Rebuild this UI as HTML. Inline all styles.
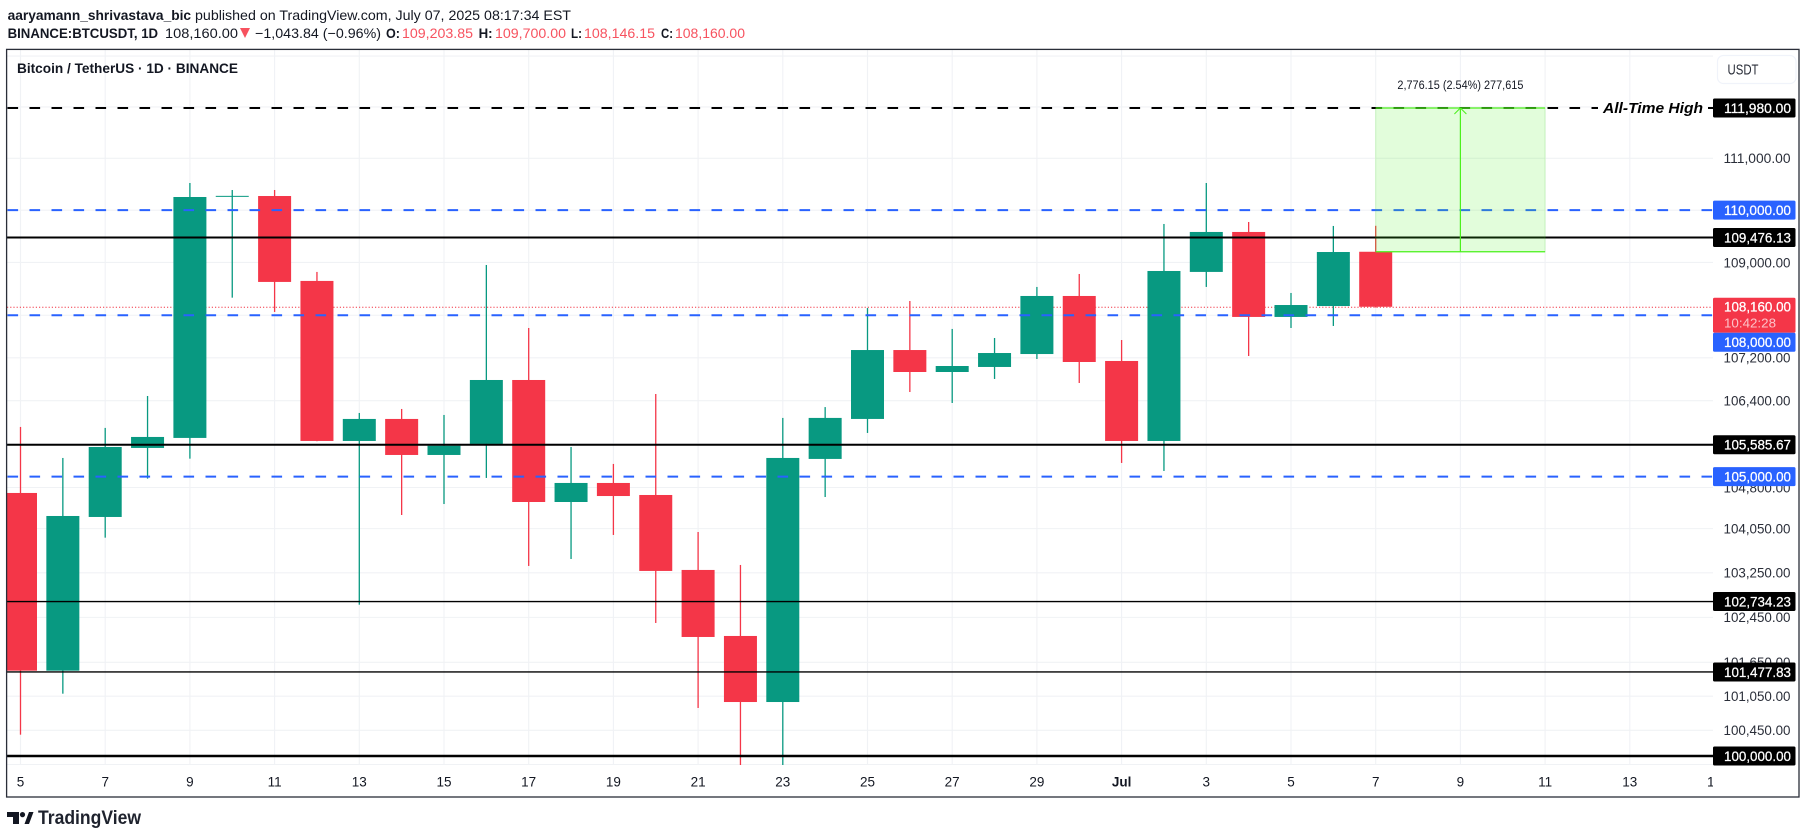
<!DOCTYPE html>
<html lang="en">
<head>
<meta charset="utf-8">
<title>Bitcoin / TetherUS 1D chart</title>
<style>
html,body{margin:0;padding:0;background:#fff;width:1807px;height:839px;overflow:hidden}
svg{display:block}
text{font-family:"Liberation Sans",Arial,sans-serif}
</style>
</head>
<body>
<svg id="chart" xmlns="http://www.w3.org/2000/svg" width="1807" height="839" viewBox="0 0 1807 839">
  <defs>
    <clipPath id="plot-clip"><rect x="7" y="50" width="1706" height="715"/></clipPath>
    <clipPath id="time-clip"><rect x="7" y="766" width="1706" height="30"/></clipPath>
  </defs>
  <rect x="0" y="0" width="1807" height="839" fill="#ffffff"/>

  <g font-size="14" fill="#131722">
    <text x="7.6" y="20" font-weight="700" textLength="183.5" lengthAdjust="spacingAndGlyphs">aaryamann_shrivastava_bic</text>
    <text x="195" y="20" textLength="376" lengthAdjust="spacingAndGlyphs">published on TradingView.com, July 07, 2025 08:17:34 EST</text>
  </g>
  <g font-size="14" fill="#131722">
    <text x="7.6" y="38" font-weight="700" textLength="150.5" lengthAdjust="spacingAndGlyphs">BINANCE:BTCUSDT, 1D</text>
    <text x="165" y="38" textLength="73" lengthAdjust="spacingAndGlyphs">108,160.00</text>
    <polygon points="240,28 250,28 245,38" fill="#f7525f"/>
    <text x="255" y="38" textLength="126" lengthAdjust="spacingAndGlyphs">−1,043.84 (−0.96%)</text>
    <text x="386" y="38" font-weight="700" textLength="14" lengthAdjust="spacingAndGlyphs">O:</text>
    <text x="402" y="38" fill="#f7525f" textLength="71" lengthAdjust="spacingAndGlyphs">109,203.85</text>
    <text x="478.6" y="38" font-weight="700" textLength="14" lengthAdjust="spacingAndGlyphs">H:</text>
    <text x="495" y="38" fill="#f7525f" textLength="71" lengthAdjust="spacingAndGlyphs">109,700.00</text>
    <text x="571" y="38" font-weight="700" textLength="11" lengthAdjust="spacingAndGlyphs">L:</text>
    <text x="584" y="38" fill="#f7525f" textLength="71" lengthAdjust="spacingAndGlyphs">108,146.15</text>
    <text x="661" y="38" font-weight="700" textLength="12" lengthAdjust="spacingAndGlyphs">C:</text>
    <text x="675" y="38" fill="#f7525f" textLength="70" lengthAdjust="spacingAndGlyphs">108,160.00</text>
  </g>

  <g id="grid" clip-path="url(#plot-clip)"></g>
  <g id="last-line" clip-path="url(#plot-clip)"></g>
  <g id="candles" clip-path="url(#plot-clip)"></g>
  <g id="levels" clip-path="url(#plot-clip)"></g>
  <g id="measure" clip-path="url(#plot-clip)"></g>
  <g id="ath-label"></g>
  <g id="price-axis"></g>
  <g id="time-axis" clip-path="url(#time-clip)"></g>

  <text x="17" y="73" font-size="13.5" font-weight="700" fill="#131722" textLength="221" lengthAdjust="spacingAndGlyphs">Bitcoin / TetherUS · 1D · BINANCE</text>

  <rect x="1717.5" y="55.5" width="78.5" height="28" rx="6" fill="#ffffff" stroke="#f0f3fa" stroke-width="1.2"/>
  <text x="1727.5" y="74.5" font-size="14.5" fill="#2a2e39" textLength="31" lengthAdjust="spacingAndGlyphs">USDT</text>

  <rect x="6.6" y="49.4" width="1792.4" height="747.6" fill="none" stroke="#2a2e39" stroke-width="1.3"/>

  <g>
    <path d="M7 812H19V824H13V817H7Z M24.5 824L29 812H33.5L29 824Z" fill="#131722"/>
    <circle cx="22.5" cy="814.6" r="2.6" fill="#131722"/>
    <text x="38" y="824" font-size="19" font-weight="700" fill="#1e222d" textLength="103" lengthAdjust="spacingAndGlyphs">TradingView</text>
  </g>

<script>
// ---- chart data ----
const dayLabels = ["5","6","7","8","9","10","11","12","13","14","15","16","17","18","19","20","21","22","23","24","25","26","27","28","29","30","Jul","2","3","4","5","6","7"];
const opens  = [104700,101501,104262,105526,105711,110260,110272,108649,105655,106062,105397,105600,106786,104535,104883,104663,103302,102118,100947,105324,106062,107346,106935,107029,107271,108364,107141,105655,108820,109582,107968,108174,109203.85];
const highs  = [105914,105342,105896,106488,110523,110388,110388,108820,106173,106247,106136,108952,107760,105544,105232,106525,103989,103392,106081,106282,108136,108269,107742,107572,108535,108781,107534,109735,110523,109773,108421,109697,109700];
const lows   = [100373,101094,103886,104962,105329,108332,108062,105650,102677,104298,104498,104975,103374,103500,103935,102350,100842,99826,99826,104626,105803,106562,106358,106805,107178,106730,105250,105103,108535,107234,107760,107798,108146.15];
const closes = [101501,104280,105544,105729,110253,110275,108630,105655,106062,105397,105568,106786,104535,104883,104644,103284,102100,100947,105342,106081,107346,106935,107047,107290,108364,107122,105655,108838,109582,107968,108193,109199,108160];

const timeTickIndexes = [0,2,4,6,8,10,12,14,16,18,20,22,24,26,28,30,32,34,36,38,40];
const timeTickLabels  = ["5","7","9","11","13","15","17","19","21","23","25","27","29","Jul","3","5","7","9","11","13","15"];

const gridPrices = [113000,112000,111000,110000,109000,108000,107200,106400,105600,104800,104050,103250,102450,101650,101050,100450,100000,99850];
const tickPrices = [111000,109000,107200,106400,104800,104050,103250,102450,101650,101050,100450];

const dashedBlueLevels = [110000,108000,105000];
const athLevel = 111980;
const solidLevels = [109476.13,105585.67,102734.23,101477.83,100000];
const lastPrice = 108160;
const countdownText = "10:42:28";

const measureFromPrice = 109203.85;
const measureToPrice = 111980;
const measureStartIndex = 32;
const measureEndIndex = 36;
const measureLabel = "2,776.15 (2.54%) 277,615";

// ---- axis functions ----
const Y_BASE_PRICE = 100000, Y_BASE = 756, Y_SCALE = 5727;
const X_ZERO = 20.5, X_STEP = 42.35;
function xOf(i){ return X_ZERO + X_STEP * i; }
function yOf(p){ return Y_BASE - Y_SCALE * Math.log(p / Y_BASE_PRICE); }
function fmt(p){ return p.toLocaleString("en-US",{minimumFractionDigits:2,maximumFractionDigits:2}); }

const NS = "http://www.w3.org/2000/svg";
function make(tag, parentId, attrs){
  const el = document.createElementNS(NS, tag);
  for (const k in attrs) el.setAttribute(k, attrs[k]);
  document.getElementById(parentId).appendChild(el);
  return el;
}

// ---- grid ----
gridPrices.forEach(function(p){
  const el = make("line","grid",{x1:7,x2:1713,y1:yOf(p),y2:yOf(p),stroke:"#f0f2f5","stroke-width":1.1});
  
  
});
timeTickIndexes.forEach(function(i){
  const el = make("line","grid",{x1:xOf(i),x2:xOf(i),y1:50,y2:765,stroke:"#f0f2f5","stroke-width":1.1});
  
  
});

// ---- last price dotted line ----
{
  const el = make("line","last-line",{x1:7,x2:1711,y1:yOf(lastPrice)+0.5,y2:yOf(lastPrice)+0.5,stroke:"#f23645","stroke-width":1,"stroke-dasharray":"1.2 2"});
  
  
}

// ---- candles ----
const UP = "#089981", DOWN = "#f43648";
closes.forEach(function(c,i){
  const o = opens[i];
  const col = c >= o ? UP : DOWN;
  const wick = make("rect","candles",{x:xOf(i)-0.65,width:1.3,y:yOf(highs[i]),height:yOf(lows[i])-yOf(highs[i]),fill:col});
  
  
  const top = yOf(Math.max(o,c));
  const h = Math.max(1, yOf(Math.min(o,c)) - top);
  const body = make("rect","candles",{x:xOf(i)-16.5,width:33,y:top,height:h,fill:col});
  
  
  const tip = document.createElementNS(NS,"title");
  tip.textContent = "Day " + dayLabels[i];
  body.appendChild(tip);
});

// ---- horizontal levels ----
const solidWidths = [2,2,1.4,1.4,2.6];
{
  const el = make("line","levels",{x1:7.5,x2:1713,y1:yOf(athLevel),y2:yOf(athLevel),stroke:"#000000","stroke-width":2,"stroke-dasharray":"10.6 11.4"});
  
  
}
dashedBlueLevels.forEach(function(p){
  const el = make("line","levels",{x1:7.5,x2:1713,y1:yOf(p),y2:yOf(p),stroke:"#2962ff","stroke-width":2,"stroke-dasharray":"10.6 11.4"});
  
  
});
solidLevels.forEach(function(p,i){
  const el = make("line","levels",{x1:7,x2:1713,y1:yOf(p),y2:yOf(p),stroke:"#000000","stroke-width":solidWidths[i]});
  
  
});

// ---- price range tool ----
{
  const x1 = xOf(measureStartIndex), x2 = xOf(measureEndIndex), xm = (x1+x2)/2;
  const yT = yOf(measureToPrice), yB = yOf(measureFromPrice);
  const fill = make("rect","measure",{x:x1,y:yT,width:x2-x1,height:yB-yT,fill:"rgba(76,240,30,0.16)",stroke:"rgba(76,240,30,0.22)","stroke-width":0.8});
  
  
  const top = make("line","measure",{x1:x1,x2:x2,y1:yT,y2:yT,stroke:"#4bf01c","stroke-width":1.2});
  
  
  const bot = make("line","measure",{x1:x1,x2:x2,y1:yB,y2:yB,stroke:"#4bf01c","stroke-width":1.2});
  
  
  const shaft = make("line","measure",{x1:xm,x2:xm,y1:yT,y2:yB,stroke:"#4bf01c","stroke-width":1.2});
  
  
  const head = make("polyline","measure",{points:(xm-6)+","+(yT+6)+" "+xm+","+yT+" "+(xm+6)+","+(yT+6),fill:"none",stroke:"#4bf01c","stroke-width":1});
  
  
  const lab = make("text","ath-label",{x:xm,y:yT-19,"font-size":11.5,fill:"#131722","text-anchor":"middle",textLength:126,lengthAdjust:"spacingAndGlyphs"});
  
  
  lab.textContent = measureLabel;
}

// ---- All-Time High annotation ----
{
  const yA = yOf(athLevel);
  const bg = make("rect","ath-label",{x:1598,y:yA-4,width:110,height:8,fill:"#ffffff"});
  
  
  const t = make("text","ath-label",{x:1603,y:yA+5,"font-size":14.5,"font-weight":700,"font-style":"italic",fill:"#000000",textLength:100,lengthAdjust:"spacingAndGlyphs"});
  
  
  t.textContent = "All-Time High";
  const d = make("line","ath-label",{x1:1708.5,x2:1713,y1:yA,y2:yA,stroke:"#000000","stroke-width":2});
  
  
}

// ---- price axis ----
tickPrices.forEach(function(p){
  const t = make("text","price-axis",{x:1723.5,y:yOf(p)+4.8,"font-size":13.4,fill:"#2a2e39",textLength:67,lengthAdjust:"spacingAndGlyphs"});
  
  
  t.textContent = fmt(p);
});

function priceTag(center, bg, text, fg, height){
  const r = make("rect","price-axis",{x:1713,y:center-height/2,width:82.5,height:height,rx:1.5,fill:bg});
  
  
  const t = make("text","price-axis",{x:1724,y:center+4.8,"font-size":13.4,fill:fg,stroke:fg,"stroke-width":0.25,textLength:67,lengthAdjust:"spacingAndGlyphs"});
  
  
  t.textContent = text;
}

priceTag(yOf(athLevel), "#000000", fmt(athLevel), "#ffffff", 19);
solidLevels.forEach(function(p){
  priceTag(yOf(p), "#000000", fmt(p), "#ffffff", 19);
});

// last price tag with countdown; the blue tag beneath it is pushed clear of it
const lastTop = yOf(lastPrice) - 9;
const lastBox = make("rect","price-axis",{x:1713,y:lastTop,width:82.5,height:35,rx:1.5,fill:"#f43648"});


const lastText = make("text","price-axis",{x:1724,y:lastTop+13.6,"font-size":13.4,fill:"#ffffff",stroke:"#ffffff","stroke-width":0.25,textLength:67,lengthAdjust:"spacingAndGlyphs"});


lastText.textContent = fmt(lastPrice);
const timer = make("text","price-axis",{x:1724,y:lastTop+29.5,"font-size":13,fill:"#fcc2c8",textLength:52,lengthAdjust:"spacingAndGlyphs"});


timer.textContent = countdownText;

dashedBlueLevels.forEach(function(p){
  let c = yOf(p);
  if (c > lastTop && c < lastTop + 35 + 9.5) c = lastTop + 35 + 9.5;
  priceTag(c, "#2962ff", fmt(p), "#ffffff", 19);
});

// ---- time axis ----
timeTickIndexes.forEach(function(i,k){
  const t = make("text","time-axis",{x:xOf(i),y:786.5,"font-size":13.5,fill:"#131722","text-anchor":"middle"});
  
  
  if (timeTickLabels[k] === "Jul") t.setAttribute("font-weight","700");
  t.textContent = timeTickLabels[k];
});
</script>
</svg>
</body>
</html>
